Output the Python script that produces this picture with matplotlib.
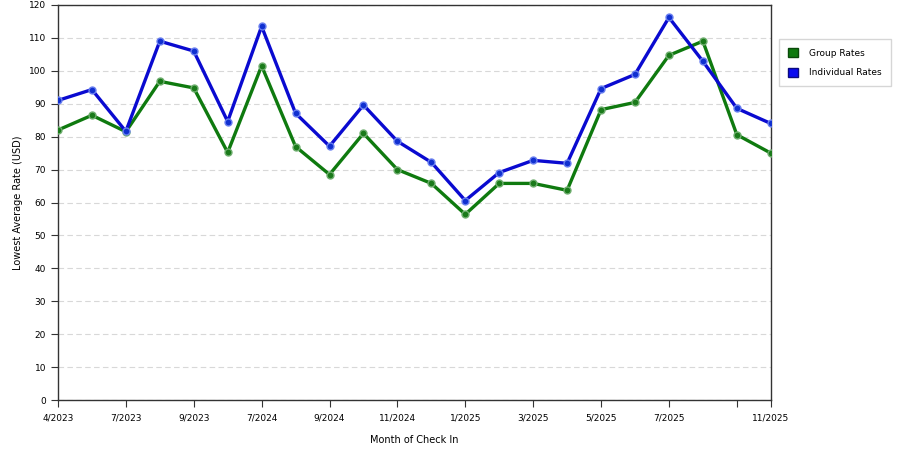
import numpy as np
import matplotlib
matplotlib.use('Agg')
import matplotlib.pyplot as plt
from matplotlib.patches import Patch

tick_labels = ['4/2023', '7/2023', '9/2023', '7/2024', '9/2024', '11/2024',
               '1/2025', '3/2025', '5/2025', '7/2025', '', '11/2025']
tick_idx = [0, 2, 4, 6, 8, 10, 12, 14, 16, 18, 20, 21]

group_rates = [82.0, 86.5, 81.5, 96.8, 94.8, 75.2, 101.5, 77.0, 68.5, 81.0, 70.0,
               65.8, 56.4, 65.8, 65.8, 63.7, 88.2, 90.4, 104.7, 109.0, 80.6, 75.0]
indiv_rates = [91.0, 94.3, 81.6, 109.0, 106.0, 84.6, 113.5, 87.1, 77.1, 89.6, 78.6,
               72.2, 60.6, 69.1, 72.8, 71.9, 94.6, 98.9, 116.2, 102.9, 88.6, 84.0]

X = np.arange(len(group_rates))

fig = plt.figure(figsize=(9, 4.5), dpi=100)
ax = fig.add_axes([0.0644, 0.111, 0.792, 0.878])

ax.plot(X, group_rates, color='#0f7a0f', linewidth=2.4, marker='o', markersize=5,
        markerfacecolor='#1a7a1a', markeredgecolor='#6fae6f', markeredgewidth=1, zorder=3)
ax.plot(X, indiv_rates, color='#0a0ad0', linewidth=2.4, marker='o', markersize=5,
        markerfacecolor='#1030d0', markeredgecolor='#6a80f0', markeredgewidth=1, zorder=3)

# 坐标轴范围
ax.set_xlim(0, len(X) - 1)
ax.set_ylim(0, 120)
ax.set_yticks(np.arange(0, 121, 10))
ax.set_xticks(tick_idx)
ax.set_xticklabels(tick_labels)
ax.tick_params(labelsize=6.5, length=5, direction='out', color='#333333')
ax.tick_params(axis='x', pad=5)
ax.yaxis.grid(True, linestyle=(0, (5, 3)), color='#d8d8d8', linewidth=0.8)
ax.set_axisbelow(True)
for s in ax.spines.values():
    s.set_color('#333333')
    s.set_linewidth(1)

ax.set_xlabel('Month of Check In', fontsize=7, labelpad=9)
ax.set_ylabel('Lowest Average Rate (USD)', fontsize=7, labelpad=4)

handles = [Patch(facecolor='#0f7a0f', edgecolor='#0a4a0a', label='Group Rates'),
           Patch(facecolor='#0a0af0', edgecolor='#0a0a80', label='Individual Rates')]
fig.legend(handles=handles, loc='upper left', bbox_to_anchor=(0.865, 0.913),
           borderaxespad=0, fontsize=6.5, frameon=True, fancybox=False,
           edgecolor='#cccccc', handlelength=1.2, handleheight=1.2,
           borderpad=1.0, labelspacing=1.1, handletextpad=1.2)

fig.savefig('out.png', dpi=100)
